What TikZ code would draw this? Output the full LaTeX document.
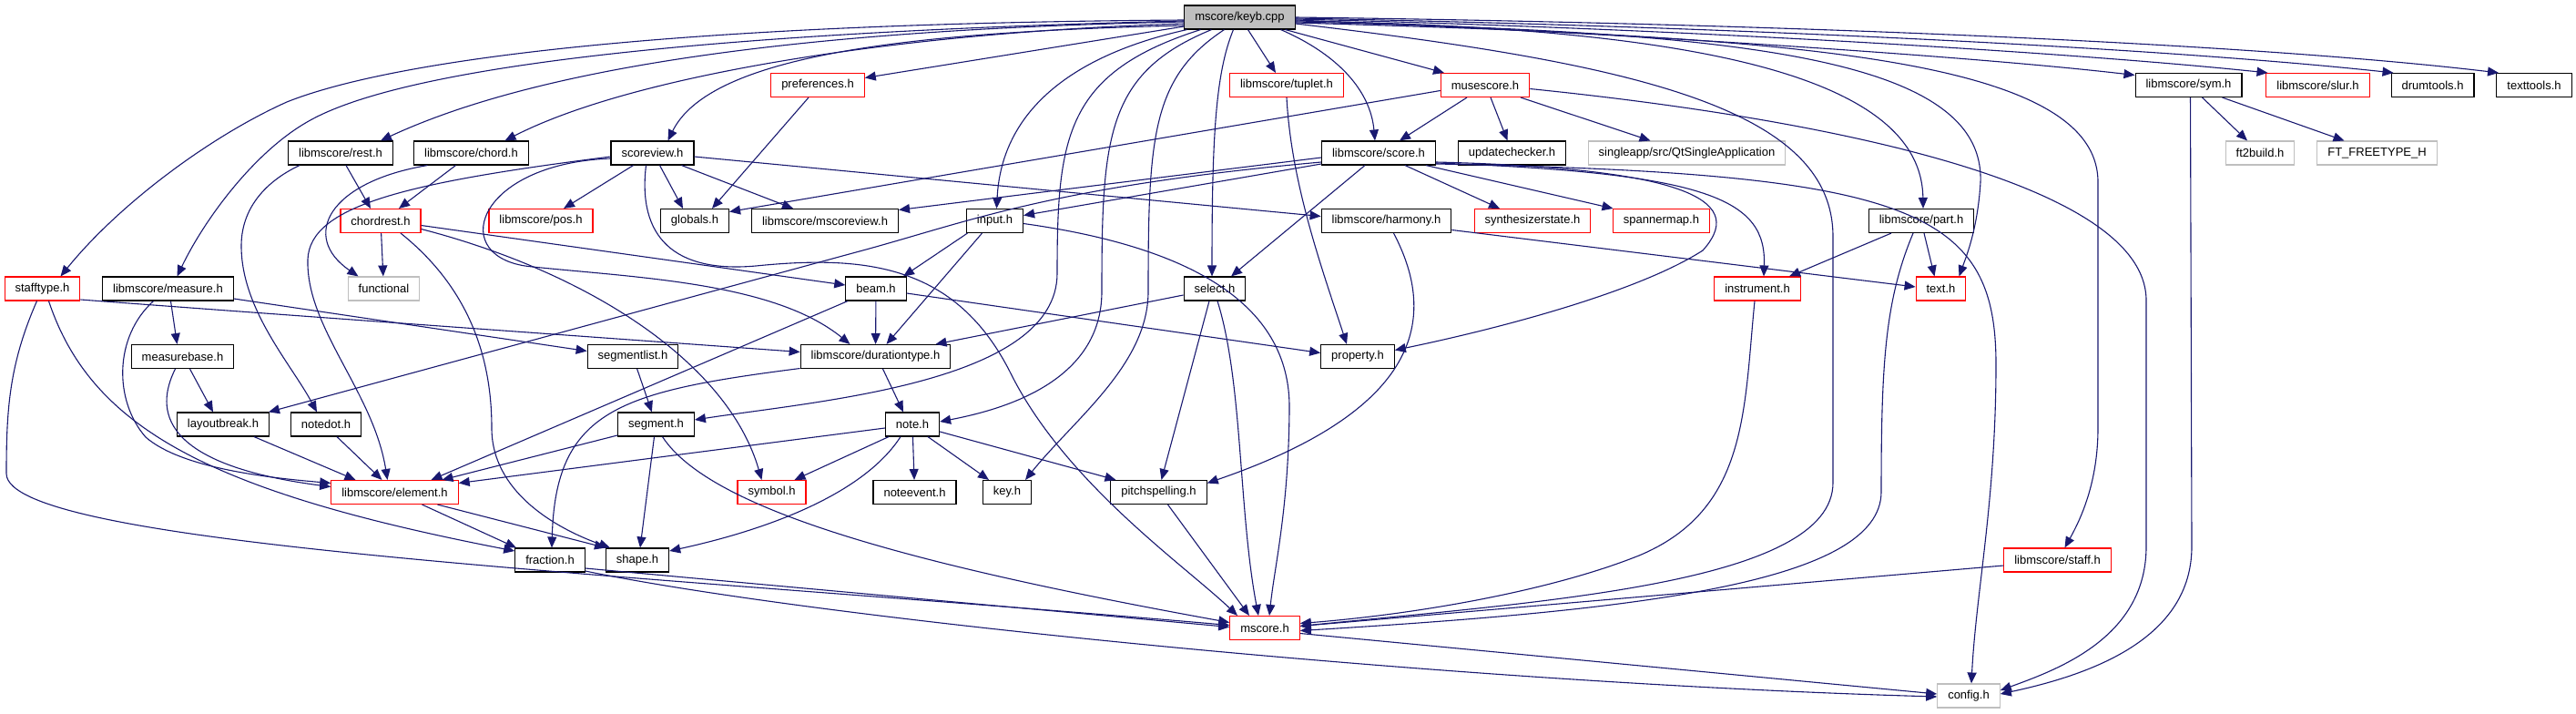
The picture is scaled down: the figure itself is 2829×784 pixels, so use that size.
\documentclass[tikz,border=0pt]{standalone}
\usepackage{fontspec}
\setmainfont{Liberation Sans}
\usepackage{tikz}
\usetikzlibrary{arrows.meta}
\definecolor{edgeblue}{HTML}{191970}
\definecolor{boxgray}{HTML}{BFBFBF}

\begin{document}
\begin{tikzpicture}[x=1pt, y=-1pt,
  font=\fontsize{13pt}{15pt}\selectfont,
  hdr/.style={draw, line width=1.1pt, minimum height=26pt, inner xsep=11.5pt, inner ysep=0pt, fill=white},
  hdrred/.style={hdr, draw=red},
  hdrsys/.style={hdr, draw=boxgray},
  hdrtop/.style={hdr, fill=boxgray},
  arr/.style={edgeblue, line width=1.1pt, -{Triangle[length=12pt,width=10pt]}}]
\useasboundingbox[fill=white] (0,0) rectangle (2829,784);
% rows of headers
\node[hdrtop] (keyb) at (1361.5,19) {mscore/keyb.cpp};
\node[hdrred] (pref) at (898,93.5) {preferences.h};
\node[hdrred] (tuplet) at (1413,93.5) {libmscore/tuplet.h};
\node[hdrred] (musesc) at (1631,93.5) {musescore.h};
\node[hdr] (sym) at (2403.5,93.5) {libmscore/sym.h};
\node[hdrred] (slur) at (2545.5,93.5) {libmscore/slur.h};
\node[hdr] (drum) at (2671.5,93.5) {drumtools.h};
\node[hdr] (ttools) at (2783,93.5) {texttools.h};
\node[hdr] (rest) at (374,168) {libmscore/rest.h};
\node[hdr] (chord) at (517.5,168) {libmscore/chord.h};
\node[hdr] (sview) at (716.5,168) {scoreview.h};
\node[hdr] (score) at (1514,168) {libmscore/score.h};
\node[hdr] (updchk) at (1660.5,168) {updatechecker.h};
\node[hdrsys] (qtapp) at (1852.5,168) {singleapp/src/QtSingleApplication};
\node[hdrsys] (ft2) at (2482,168) {ft2build.h};
\node[hdrsys] (ftype) at (2610.5,168) {FT\_FREETYPE\_H};
\node[hdrred] (crest) at (418,242.5) {chordrest.h};
\node[hdrred] (pos) at (594,242.5) {libmscore/pos.h};
\node[hdr] (glob) at (763,242.5) {globals.h};
\node[hdr] (msview) at (906,242.5) {libmscore/mscoreview.h};
\node[hdr] (input) at (1092.5,242.5) {input.h};
\node[hdr] (harm) at (1522.5,242.5) {libmscore/harmony.h};
\node[hdrred] (synth) at (1683,242.5) {synthesizerstate.h};
\node[hdrred] (spmap) at (1824.5,242.5) {spannermap.h};
\node[hdr] (part) at (2110,242.5) {libmscore/part.h};
\node[hdrred] (stype) at (46.5,317) {stafftype.h};
\node[hdr] (meas) at (184.5,317) {libmscore/measure.h};
\node[hdrsys] (func) at (421.5,317) {functional};
\node[hdr] (beam) at (962,317) {beam.h};
\node[hdr] (sel) at (1334,317) {select.h};
\node[hdrred] (instr) at (1930,317) {instrument.h};
\node[hdrred] (text) at (2131.5,317) {text.h};
\node[hdr] (mbase) at (200.5,391.5) {measurebase.h};
\node[hdr] (seglist) at (695,391.5) {segmentlist.h};
\node[hdr] (dtype) at (961.5,391.5) {libmscore/durationtype.h};
\node[hdr] (prop) at (1491,391.5) {property.h};
\node[hdr] (lbreak) at (245,466) {layoutbreak.h};
\node[hdr] (ndot) at (358,466) {notedot.h};
\node[hdr] (seg) at (720.5,466) {segment.h};
\node[hdr] (note) at (1002,466) {note.h};
\node[hdrred] (elem) at (433.5,540.5) {libmscore/element.h};
\node[hdrred] (symb) at (847.5,540.5) {symbol.h};
\node[hdr] (nevent) at (1004.5,540.5) {noteevent.h};
\node[hdr] (key) at (1106,540.5) {key.h};
\node[hdr] (pspell) at (1272.5,540.5) {pitchspelling.h};
\node[hdr] (frac) at (604,615) {fraction.h};
\node[hdr] (shape) at (700,615) {shape.h};
\node[hdrred] (staff) at (2259.5,615) {libmscore/staff.h};
\node[hdrred] (mscore) at (1389,689.5) {mscore.h};
\node[hdrsys] (config) at (2162,764) {config.h};
% includes of keyb.cpp
\draw[arr] ([yshift=-3pt]keyb.west) .. controls (700,26) and (420,70) .. (315,112) .. controls (230,150) and (130,225) .. ([xshift=20pt]stype.north);
\draw[arr] ([yshift=-4pt]keyb.west) .. controls (800,35) and (450,70) .. (339,133) .. controls (280,166) and (225,240) .. ([xshift=10pt]meas.north);
\draw[arr] ([yshift=-5pt]keyb.west) .. controls (900,32) and (600,70) .. ([xshift=44pt]rest.north);
\draw[arr] ([yshift=-7pt]keyb.west) .. controls (1000,35) and (700,80) .. ([xshift=37pt]chord.north);
\draw[arr] ([yshift=-9pt]keyb.west) .. controls (1000,35) and (780,60) .. ([xshift=17pt]sview.north);
\draw[arr] ([yshift=-10pt]keyb.west) -- ([yshift=8pt]pref.east);
\draw[arr] ([xshift=-58pt]keyb.south) .. controls (1180,60) and (1100,120) .. ([xshift=2pt]input.north);
\draw[arr] ([xshift=-43pt]keyb.south) .. controls (1170,80) and (1161,150) .. (1161,300) .. controls (1161,420) and (900,440) .. ([yshift=5pt]seg.east);
\draw[arr] ([xshift=-31pt]keyb.south) .. controls (1215,80) and (1210,150) .. (1210,320) .. controls (1210,420) and (1100,450) .. ([yshift=3pt]note.east);
\draw[arr] ([xshift=-17pt]keyb.south) .. controls (1265,85) and (1261,150) .. (1261,320) .. controls (1261,400) and (1180,460) .. ([xshift=20pt]key.north);
\draw[arr] ([xshift=-7pt]keyb.south) .. controls (1335,80) and (1331,150) .. ([xshift=-3pt]sel.north);
\draw[arr] ([xshift=9pt]keyb.south) -- ([xshift=-12pt]tuplet.north);
\draw[arr] ([xshift=45pt]keyb.south) .. controls (1470,60) and (1505,100) .. ([xshift=-4pt]score.north);
\draw[arr] ([xshift=50pt]keyb.south) -- ([xshift=-45pt]musesc.north);
\draw[arr] (keyb.east) .. controls (1900,25) and (2450,45) .. ([xshift=-39pt]ttools.north);
\draw[arr] ([yshift=-1pt]keyb.east) .. controls (1850,28) and (2350,50) .. ([xshift=-43pt]drum.north);
\draw[arr] ([yshift=-2pt]keyb.east) .. controls (1800,30) and (2250,55) .. ([xshift=-55pt]slur.north);
\draw[arr] ([yshift=-3pt]keyb.east) .. controls (1750,35) and (2150,60) .. ([yshift=11pt]sym.west);
\draw[arr] ([yshift=-4pt]keyb.east) .. controls (1850,30) and (2110,80) .. ([xshift=2pt]part.north);
\draw[arr] ([yshift=-5pt]keyb.east) .. controls (1900,35) and (2180,60) .. (2175,200) .. controls (2172,250) and (2160,280) .. ([xshift=20pt]text.north);
\draw[arr] ([yshift=-6pt]keyb.east) .. controls (1950,40) and (2304,60) .. (2304,200) -- (2304,470) .. controls (2304,530) and (2285,570) .. ([xshift=8pt]staff.north);
\draw[arr] ([yshift=-7pt]keyb.east) .. controls (1800,70) and (2013,120) .. (2013,260) -- (2013,530) .. controls (2013,640) and (1700,660) .. ([yshift=2pt]mscore.east);
% second row
\draw[arr] ([xshift=-10pt]pref.south) -- ([xshift=19pt]glob.north);
\draw[arr] (tuplet.south) .. controls (1418,200) and (1450,290) .. ([xshift=-12pt]prop.north);
\draw[arr] ([xshift=-20pt]musesc.south) -- ([xshift=23pt]score.north);
\draw[arr] ([xshift=6pt]musesc.south) -- ([xshift=-5pt]updchk.north);
\draw[arr] ([xshift=39pt]musesc.south) -- ([xshift=-40pt]qtapp.north);
\draw[arr] ([yshift=-6pt]musesc.west) -- ([yshift=10pt]glob.east);
\draw[arr] ([yshift=-4pt]musesc.east) .. controls (2000,130) and (2357,200) .. (2357,330) -- (2357,600) .. controls (2357,700) and (2260,735) .. ([yshift=6pt]config.east);
\draw[arr] ([xshift=15pt]sym.south) -- ([xshift=-14pt]ft2.north);
\draw[arr] ([xshift=37pt]sym.south) -- ([xshift=-36pt]ftype.north);
\draw[arr] ([xshift=2pt]sym.south) -- (2407,600) .. controls (2407,700) and (2300,740) .. ([yshift=2pt]config.east);
% third row
\draw[arr] ([xshift=6pt]rest.south) -- ([xshift=-11pt]crest.north);
\draw[arr] ([xshift=-45pt]rest.south) .. controls (290,200) and (265,230) .. (265,270) .. controls (265,340) and (320,400) .. ([xshift=-10pt]ndot.north);
\draw[arr] ([xshift=-17pt]chord.south) -- ([xshift=20pt]crest.north);
\draw[arr] ([xshift=-48pt]chord.south) .. controls (360,200) and (330,260) .. ([xshift=-28pt]func.north);
\draw[arr] ([xshift=-21pt]sview.south) -- ([xshift=25pt]pos.north);
\draw[arr] ([xshift=8pt]sview.south) -- ([xshift=-13pt]glob.north);
\draw[arr] ([xshift=32pt]sview.south) -- ([xshift=-35pt]msview.north);
\draw[arr] ([yshift=-4pt]sview.east) -- ([yshift=5pt]harm.west);
\draw[arr] ([yshift=-4pt]sview.west) .. controls (450,200) and (340,225) .. (338,285) .. controls (336,360) and (410,430) .. ([xshift=-8pt]elem.north);
\draw[arr] ([yshift=-6pt]sview.west) .. controls (520,180) and (490,285) .. (585,293) .. controls (700,305) and (850,310) .. ([xshift=-28pt]dtype.north);
\draw[arr] ([xshift=-7pt]sview.south) .. controls (700,260) and (740,300) .. (830,292) .. controls (950,280) and (1050,290) .. (1110,410) .. controls (1170,530) and (1300,620) .. ([xshift=-30pt]mscore.north);
\draw[arr] ([yshift=-5pt]score.west) -- ([yshift=12pt]msview.east);
\draw[arr] ([yshift=-12pt]score.west) -- ([yshift=6pt]input.east);
\draw[arr] ([yshift=-10pt]score.west) .. controls (1150,205) and (1060,245) .. (940,277) -- ([xshift=50pt]lbreak.north);
\draw[arr] ([xshift=-15pt]score.south) -- ([xshift=18pt]sel.north);
\draw[arr] ([xshift=29pt]score.south) -- ([xshift=-36pt]synth.north);
\draw[arr] ([xshift=52pt]score.south) -- ([xshift=-53pt]spmap.north);
\draw[arr] ([yshift=-10pt]score.east) .. controls (1870,185) and (1915,225) .. (1870,275) .. controls (1800,320) and (1650,360) .. ([yshift=7pt]prop.east);
\draw[arr] ([yshift=-11pt]score.east) .. controls (1880,190) and (1940,220) .. ([xshift=7pt]instr.north);
\draw[arr] ([yshift=-12pt]score.east) .. controls (2100,190) and (2192,230) .. (2192,400) .. controls (2192,550) and (2170,650) .. ([xshift=3pt]config.north);
% fourth row
\draw[arr] (crest) -- (func);
\draw[arr] ([yshift=-5pt]crest.east) -- ([yshift=4pt]beam.west);
\draw[arr] ([yshift=-9pt]crest.east) .. controls (650,300) and (800,400) .. ([xshift=-11pt]symb.north);
\draw[arr] ([xshift=22pt]crest.south) .. controls (520,320) and (540,400) .. (540,470) .. controls (540,540) and (610,580) .. ([xshift=-30pt]shape.north);
\draw[arr] ([xshift=-30pt]input.south) -- ([xshift=30pt]beam.north);
\draw[arr] ([xshift=-14pt]input.south) -- ([xshift=12pt]dtype.north);
\draw[arr] ([yshift=-3pt]input.east) .. controls (1300,270) and (1418,330) .. (1416,450) .. controls (1415,560) and (1400,620) .. ([xshift=5pt]mscore.north);
\draw[arr] ([xshift=8pt]harm.south) .. controls (1580,350) and (1560,450) .. ([yshift=10pt]pspell.east);
\draw[arr] ([yshift=-10pt]harm.east) -- ([yshift=2pt]text.west);
\draw[arr] ([xshift=-33pt]part.south) -- ([xshift=35pt]instr.north);
\draw[arr] ([xshift=3pt]part.south) -- ([xshift=-7pt]text.north);
\draw[arr] ([xshift=-9pt]part.south) .. controls (2070,330) and (2066,400) .. (2066,540) .. controls (2066,640) and (1800,670) .. ([yshift=-3pt]mscore.east);
% fifth row
\draw[arr] ([yshift=-12pt]stype.east) .. controls (300,345) and (650,370) .. ([yshift=5pt]dtype.west);
\draw[arr] ([xshift=7pt]stype.south) .. controls (100,470) and (230,540) .. ([yshift=10pt]frac.west);
\draw[arr] ([xshift=-6pt]stype.south) .. controls (10,400) and (7,450) .. (7,520) .. controls (7,600) and (700,630) .. ([yshift=3pt]mscore.west);
\draw[arr] ([xshift=3pt]meas.south) -- ([xshift=-6pt]mbase.north);
\draw[arr] ([yshift=-11pt]meas.east) -- ([yshift=6pt]seglist.west);
\draw[arr] ([xshift=-16pt]meas.south) .. controls (125,370) and (125,440) .. (160,480) .. controls (200,515) and (300,525) .. ([yshift=10pt]elem.west);
\draw[arr] (beam) -- (dtype);
\draw[arr] ([yshift=-5pt]beam.east) -- ([yshift=4pt]prop.west);
\draw[arr] ([xshift=-31pt]beam.south) -- ([xshift=40pt]elem.north);
\draw[arr] ([yshift=-7pt]sel.west) -- ([xshift=66pt]dtype.north);
\draw[arr] ([xshift=-6pt]sel.south) -- ([xshift=3pt]pspell.north);
\draw[arr] ([xshift=3pt]sel.south) .. controls (1365,420) and (1360,560) .. ([xshift=-7pt]mscore.north);
\draw[arr] ([xshift=-3pt]instr.south) .. controls (1915,450) and (1920,560) .. (1800,610) .. controls (1700,650) and (1550,675) .. ([yshift=5pt]mscore.east);
% lower rows
\draw[arr] ([xshift=8pt]mbase.south) -- ([xshift=-11pt]lbreak.north);
\draw[arr] ([xshift=-8pt]mbase.south) .. controls (170,450) and (175,510) .. ([yshift=6pt]elem.west);
\draw[arr] (seglist) -- (seg);
\draw[arr] ([xshift=8pt]dtype.south) -- ([xshift=-10pt]note.north);
\draw[arr] ([yshift=-13pt]dtype.west) .. controls (680,430) and (610,450) .. ([xshift=2pt]frac.north);
\draw[arr] ([xshift=34pt]lbreak.south) -- ([xshift=-43pt]elem.north);
\draw[arr] ([xshift=12pt]ndot.south) -- ([xshift=-14pt]elem.north);
\draw[arr] ([yshift=-12pt]seg.west) -- ([xshift=52pt]elem.north);
\draw[arr] ([xshift=-2pt]seg.south) -- ([xshift=3pt]shape.north);
\draw[arr] ([xshift=7pt]seg.south) .. controls (780,560) and (1000,620) .. ([yshift=6pt]mscore.west);
\draw[arr] ([yshift=-4pt]note.west) -- ([yshift=10pt]elem.east);
\draw[arr] ([xshift=-26pt]note.south) -- ([xshift=25pt]symb.north);
\draw[arr] ([xshift=-13pt]note.south) .. controls (950,540) and (850,580) .. ([yshift=10pt]shape.east);
\draw[arr] (note) -- (nevent);
\draw[arr] ([xshift=17pt]note.south) -- ([xshift=-20pt]key.north);
\draw[arr] ([yshift=-8pt]note.east) -- ([xshift=-47pt]pspell.north);
\draw[arr] ([xshift=30pt]elem.south) -- ([xshift=-37pt]frac.north);
\draw[arr] ([xshift=47pt]elem.south) -- ([xshift=-35pt]shape.north);
\draw[arr] ([yshift=-9pt]frac.east) -- ([yshift=1pt]mscore.west);
\draw[arr] ([yshift=-12pt]frac.east) .. controls (900,680) and (1600,750) .. ([yshift=-1pt]config.west);
\draw[arr] ([xshift=10pt]pspell.south) -- ([xshift=-17pt]mscore.north);
\draw[arr] ([yshift=-6pt]staff.west) -- ([yshift=2pt]mscore.east);
\draw[arr] ([yshift=-6pt]mscore.east) -- ([yshift=2pt]config.west);
\end{tikzpicture}
\end{document}
